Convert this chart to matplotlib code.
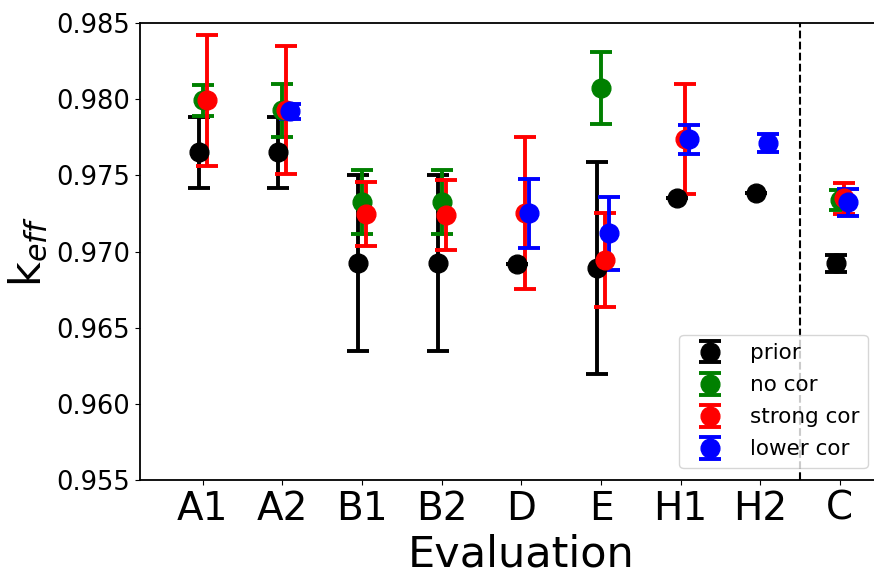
"""
k_eff per evaluation, prior vs the three posterior correlation choices.
"""
from matplotlib import pyplot as plt
import numpy as np

evaluations = ["A1", "A2", "B1", "B2", "D", "E", "H1", "H2", "C"]
series_names = ["prior", "no cor", "strong cor", "lower cor"]

# values, nan where the series has no point
prior_k = [0.97652, 0.97652, 0.96924, 0.96924, 0.96917, 0.96891, 0.97350, 0.97383, 0.96924]
prior_err = [0.00233, 0.00233, 0.00578, 0.00578, 0.0, 0.00696, 0.0, 0.0, 0.00055]
nocor_k = [0.97993, 0.97928, 0.97324, 0.97324, np.nan, 0.98072, np.nan, np.nan, 0.97337]
nocor_err = [0.00102, 0.00174, 0.00210, 0.00210, np.nan, 0.00236, np.nan, np.nan, 0.00065]
strong_k = [0.97993, 0.97930, 0.97245, 0.97240, 0.97252, 0.96944, 0.97738, np.nan, 0.97350]
strong_err = [0.00430, 0.00420, 0.00210, 0.00230, 0.00500, 0.00310, 0.00360, np.nan, 0.00100]
lower_k = [np.nan, 0.97921, np.nan, np.nan, 0.97252, 0.97121, 0.97738, 0.97711, 0.97324]
lower_err = [np.nan, 0.00050, np.nan, np.nan, 0.00227, 0.00240, 0.00095, 0.00060, 0.00090]

series_k = [prior_k, nocor_k, strong_k, lower_k]
series_err = [prior_err, nocor_err, strong_err, lower_err]
colors = ["black", "green", "red", "blue"]
shifts = [-0.05, 0.0, 0.05, 0.1]


def add_series(ax, xpos, vals, errs, color, label):
	"""
		One errorbar series, skipping the evaluations with no value.
	"""
	vals = np.asarray(vals, dtype=float)
	errs = np.asarray(errs, dtype=float)
	ok = ~np.isnan(vals)
	ax.errorbar(xpos[ok], vals[ok], yerr=errs[ok], fmt="o", color=color, ms=13.5,
		elinewidth=2.8, capsize=8, capthick=2.8, label=label)


fig = plt.figure(figsize=[8.74, 5.81], facecolor="white")
# the right edge of the frame runs past the picture, as in the original crop
ax = fig.add_axes([0.160, 0.174, 0.873, 0.786])

xx = np.arange(len(evaluations), dtype=float)
for vals, errs, color, name, dx in zip(series_k, series_err, colors, series_names, shifts):
	add_series(ax, xx + dx, vals, errs, color, name)

# separates the C evaluation from the others
ax.axvline(7.5, color="black", ls="--", lw=1.5, zorder=0)

ax.set_xlim(-0.79, 8.79)
ax.set_ylim(0.955, 0.985)
ax.set_yticks(np.arange(0.955, 0.9851, 0.005))
ax.set_yticklabels(["%.3f" % v for v in np.arange(0.955, 0.9851, 0.005)], fontsize=18.5)
ax.set_xticks(xx)
ax.set_xticklabels(evaluations, fontsize=28)
ax.set_xlabel("Evaluation", fontsize=31, labelpad=4)
ax.set_ylabel(r"k$_{eff}$", fontsize=31, labelpad=4)
for sp in ax.spines.values():
	sp.set_linewidth(1.3)

ax.legend(loc="lower right", bbox_to_anchor=(0.954, 0.026), borderaxespad=0,
	fontsize=15.5, labelspacing=0.56, handletextpad=0.86, borderpad=0.4)

plt.savefig("out.png", dpi=100)
